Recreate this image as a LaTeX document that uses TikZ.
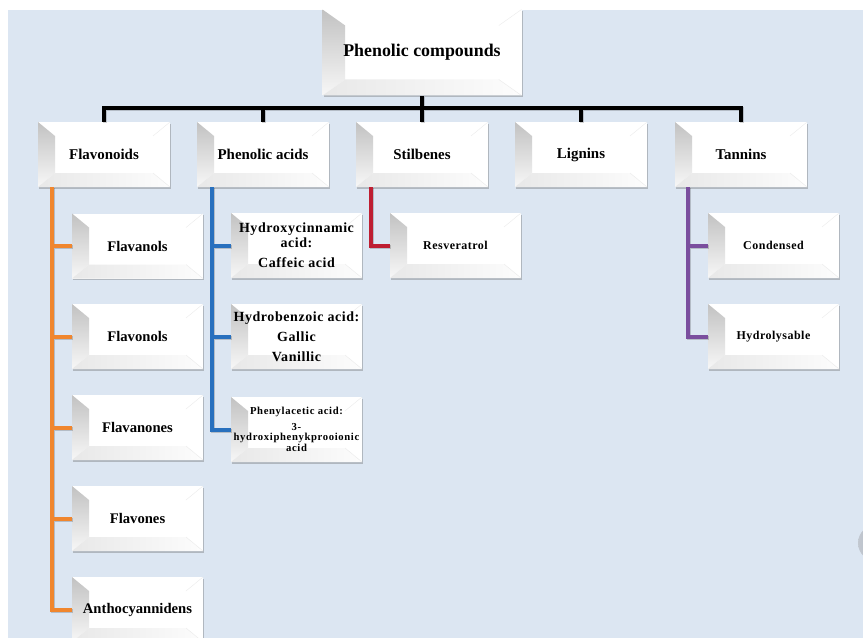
\documentclass[tikz,border=0pt]{standalone}
\usepackage{fontspec}
\setmainfont{Liberation Serif}
\newfontfamily\trackedfont[LetterSpace=4]{Liberation Serif}
\newfontfamily\widefont[LetterSpace=6]{Liberation Serif}
\usetikzlibrary{shadows,calc}

\definecolor{bgblue}{RGB}{220,230,242}
\definecolor{flavline}{RGB}{240,134,46}
\definecolor{acidline}{RGB}{40,112,190}
\definecolor{stilline}{RGB}{190,30,50}
\definecolor{tanline}{RGB}{122,78,158}
\definecolor{knob}{RGB}{168,176,188}

\tikzset{
  bvx/.store in=\bvx, bvy/.store in=\bvy, bvx=12.75pt, bvy=10.5pt,
  bevelbox/.style={rectangle, fill=white, inner sep=0pt, align=center,
    minimum width=98.25pt, minimum height=48.75pt,
    drop shadow={shadow xshift=1.1pt, shadow yshift=-1.4pt, fill=black!70, opacity=0.3},
    path picture={
      \path (path picture bounding box.south west) coordinate (bvsw)
            (path picture bounding box.north east) coordinate (bvne);
      \coordinate (bvnw) at (bvsw|-bvne);
      \coordinate (bvse) at (bvne|-bvsw);
      \coordinate (bvisw) at ($(bvsw)+(\bvx,\bvy)$);
      \coordinate (bvine) at ($(bvne)+(-\bvx,-\bvy)$);
      \coordinate (bvinw) at (bvisw|-bvine);
      \coordinate (bvise) at (bvine|-bvisw);
      % left facet: grey, fading downwards
      \shade[top color=black!24, bottom color=black!3]
        (bvsw) -- (bvnw) -- (bvinw) -- (bvisw) -- cycle;
      % bottom facet: faint grey
      \shade[left color=black!9, right color=black!1]
        (bvsw) -- (bvisw) -- (bvise) -- (bvse) -- cycle;
      % diagonal edges of the bevel
      \draw[black!8, line width=0.3pt] (bvse) -- (bvise) (bvne) -- (bvine);
    }},
  headbox/.style={bevelbox, bvx=17pt, bvy=12pt,
    minimum width=149.25pt, minimum height=64.5pt,
    font=\bfseries\fontsize{13.4}{16}\selectfont},
  groupbox/.style={bevelbox, minimum width=99pt,
    font=\bfseries\fontsize{11.2}{13}\selectfont},
  itembox/.style={bevelbox, font=\bfseries\fontsize{11}{13}\selectfont},
  smallbox/.style={bevelbox, font=\trackedfont\bfseries\fontsize{9}{11}\selectfont},
  linkline/.style={line width=3pt,
    preaction={draw=black, opacity=0.18, line width=3pt,
      transform canvas={shift={(0.9pt,-0.9pt)}}}},
}

\begin{document}
\begin{tikzpicture}[x=0.75pt,y=-0.75pt]
  \useasboundingbox (0,0) rectangle (863,638);
  % page background
  \fill[white] (0,0) rectangle (863,638);
  \fill[bgblue] (8,10) rectangle (863,638);
  \begin{scope}
    \clip (0,0) rectangle (863,638);
    \shade[left color=knob!70, right color=knob] (876,543) circle (18);
  \end{scope}

  % root
  \node[headbox] (root) at (422,52.5) {Phenolic compounds};

  % main groups
  \node[groupbox] (flav) at (104,154.5) {Flavonoids};
  \node[groupbox] (acid) at (263,154.5) {Phenolic acids};
  \node[groupbox] (stil) at (422,154.5) {Stilbenes};
  \node[groupbox] (lign) at (581,154.5) {Lignins};
  \node[groupbox] (tann) at (741,154.5) {Tannins};

  % flavonoid classes
  \node[itembox] (fl1) at (137.5,246)   {Flavanols};
  \node[itembox] (fl2) at (137.5,336.5) {Flavonols};
  \node[itembox] (fl3) at (137.5,427.5) {Flavanones};
  \node[itembox] (fl4) at (137.5,518.5) {Flavones};
  \node[itembox] (fl5) at (137.5,609.5) {Anthocyannidens};

  % phenolic acid classes
  \node[bevelbox, font=\trackedfont\bfseries\fontsize{10.5}{11.5}\selectfont]
    (ac1) at (296.5,245.5) {Hydroxycinnamic\\acid:\\[3.5pt]Caffeic acid};
  \node[bevelbox, font=\trackedfont\bfseries\fontsize{10.5}{15}\selectfont]
    (ac2) at (296.5,336.5) {Hydrobenzoic acid:\\Gallic\\Vanillic};
  \node[bevelbox, font=\widefont\bfseries\fontsize{8}{8.2}\selectfont]
    (ac3) at (296.5,429.5) {Phenylacetic acid:\\[3.5pt]3-\\hydroxiphenykprooionic\\acid};

  % stilbene
  \node[smallbox] (st1) at (455.5,245.5) {Resveratrol};

  % tannin classes
  \node[smallbox] (tn1) at (773.5,245.5) {Condensed};
  \node[smallbox] (tn2) at (773.5,336.5) {Hydrolysable};

  % root to groups
  \coordinate (bar) at (422,108);
  \draw[linkline, black]
    (root.south) -- (stil.north)
    (flav.north) -- (flav.north|-bar) -- (tann.north|-bar) -- (tann.north)
    (acid.north) -- (acid.north|-bar)
    (lign.north) -- (lign.north|-bar);

  % group trunks
  \draw[linkline, flavline]
    ([xshift=10.5pt]flav.south west) coordinate (ft) |- (fl5.west)
    (ft|-fl1.west) -- (fl1.west)
    (ft|-fl2.west) -- (fl2.west)
    (ft|-fl3.west) -- (fl3.west)
    (ft|-fl4.west) -- (fl4.west);
  \draw[linkline, acidline]
    ([xshift=11.25pt]acid.south west) coordinate (at) |- (ac3.west)
    (at|-ac1.west) -- (ac1.west)
    (at|-ac2.west) -- (ac2.west);
  \draw[linkline, stilline]
    ([xshift=11.25pt]stil.south west) |- (st1.west);
  \draw[linkline, tanline]
    ([xshift=9.75pt]tann.south west) coordinate (tt) |- (tn2.west)
    (tt|-tn1.west) -- (tn1.west);
\end{tikzpicture}
\end{document}
